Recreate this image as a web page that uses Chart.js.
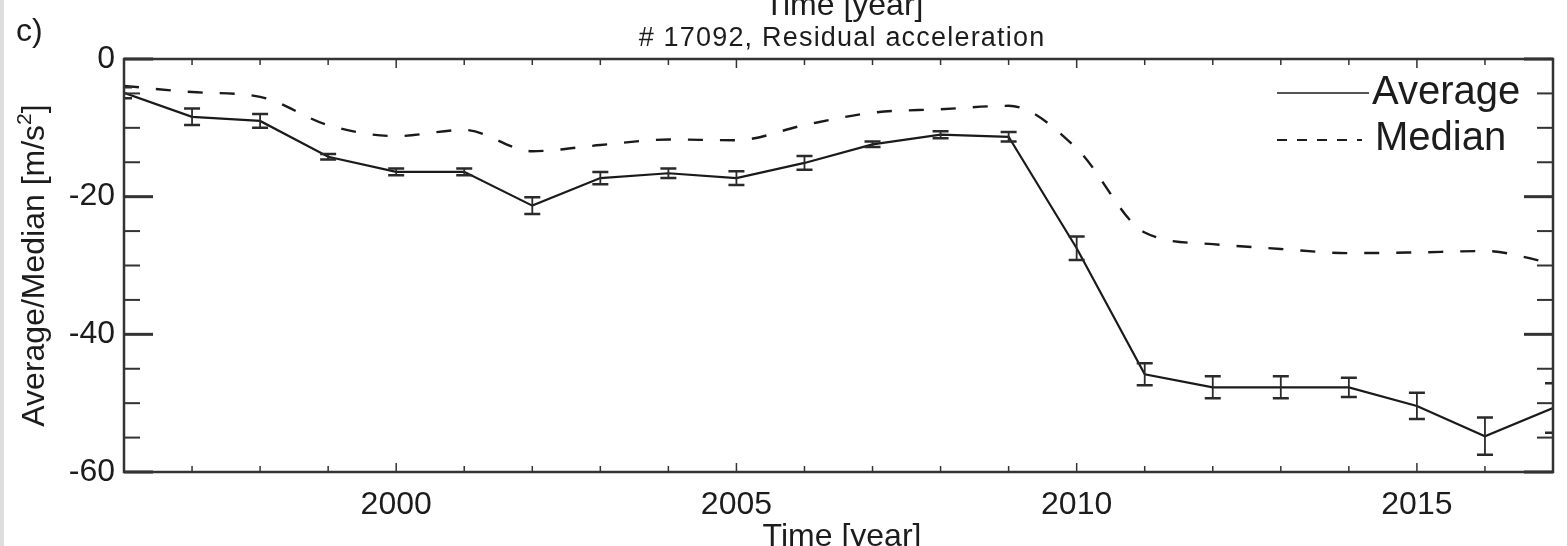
<!DOCTYPE html>
<html>
<head>
<meta charset="utf-8">
<title># 17092, Residual acceleration</title>
<script src="https://cdn.jsdelivr.net/npm/chart.js@4.4.1/dist/chart.umd.min.js"></script>
<style>
  html, body { margin: 0; padding: 0; background: #fff; }
  #wrap { width: 1567px; height: 546px; position: relative; }
</style>
</head>
<body>
<div id="wrap"><canvas id="accChart"></canvas></div>
<script>
// Yearly residual acceleration, station # 17092
const years = [1996, 1997, 1998, 1999, 2000, 2001, 2002, 2003, 2004, 2005, 2006,
               2007, 2008, 2009, 2010, 2011, 2012, 2013, 2014, 2015, 2016, 2017];
const average = [-4.9, -8.4, -9.0, -14.2, -16.4, -16.4, -21.3, -17.3, -16.6, -17.3, -15.1,
                 -12.4, -11.0, -11.3, -27.5, -45.8, -47.7, -47.7, -47.7, -50.4, -54.8, -50.7];
const averageErr = [0.8, 1.2, 1.0, 0.4, 0.5, 0.5, 1.2, 0.9, 0.7, 1.0, 1.0,
                    0.4, 0.5, 0.7, 1.7, 1.6, 1.6, 1.6, 1.4, 1.9, 2.7, 3.6];
const median = [-3.9, -4.8, -5.5, -9.6, -11.2, -10.3, -13.4, -12.5, -11.7, -11.8, -9.6,
                -7.8, -7.3, -6.8, -13.0, -25.2, -26.9, -27.6, -28.2, -28.1, -27.9, -29.7];

// axis ticks
const xTickLabels = [2000, 2005, 2010, 2015];
const yTickLabels = [0, -20, -40, -60];
const yMinorTicks = [0, -5, -10, -15, -20, -25, -30, -35, -40, -45, -50, -55, -60];

const FONT = '"Liberation Sans", Arial, Helvetica, sans-serif';
const INK = '#1c1c1c';

// Error bars on the average series
const errorBarPlugin = {
  id: 'errorBars',
  afterDatasetsDraw(chart) {
    const { ctx, chartArea: a, scales: { x, y } } = chart;
    ctx.save();
    ctx.beginPath();
    ctx.rect(a.left, a.top, a.right - a.left, a.bottom - a.top);
    ctx.clip();
    ctx.strokeStyle = '#2a2a2a';
    years.forEach((yr, i) => {
      const px = x.getPixelForValue(yr);
      const top = y.getPixelForValue(average[i] + averageErr[i]);
      const bot = y.getPixelForValue(average[i] - averageErr[i]);
      ctx.lineWidth = 1.8;
      ctx.beginPath();
      ctx.moveTo(px, top);
      ctx.lineTo(px, bot);
      ctx.stroke();
      ctx.lineWidth = 2.5;
      ctx.beginPath();
      ctx.moveTo(px - 8, top);
      ctx.lineTo(px + 8, top);
      ctx.moveTo(px - 8, bot);
      ctx.lineTo(px + 8, bot);
      ctx.stroke();
    });
    ctx.restore();
  }
};

// Box around the plot with inward ticks on all four sides
const framePlugin = {
  id: 'frame',
  afterDraw(chart) {
    const { ctx, chartArea: a, scales: { x, y } } = chart;
    const line = (x1, y1, x2, y2) => {
      ctx.beginPath();
      ctx.moveTo(x1, y1);
      ctx.lineTo(x2, y2);
      ctx.stroke();
    };
    ctx.save();
    ctx.strokeStyle = '#333';
    ctx.lineWidth = 2.5;
    ctx.strokeRect(a.left, a.top, a.right - a.left, a.bottom - a.top);

    years.forEach(v => {
      const px = x.getPixelForValue(v);
      const len = xTickLabels.includes(v) ? 9 : 6;
      ctx.lineWidth = 1.5;
      line(px, a.bottom, px, a.bottom - len);
      line(px, a.top, px, a.top + len);
    });
    yMinorTicks.forEach(v => {
      const py = y.getPixelForValue(v);
      const major = yTickLabels.includes(v);
      ctx.lineWidth = major ? 3 : 2;
      const len = major ? 29 : 16;
      line(a.left, py, a.left + len, py);
      line(a.right, py, a.right - len, py);
    });
    ctx.restore();
  }
};

// Titles, panel letter, axis titles and legend
const textPlugin = {
  id: 'texts',
  beforeDraw(chart) {
    const { ctx } = chart;
    ctx.save();
    ctx.fillStyle = '#dedede';
    ctx.fillRect(0, 0, 4, chart.height);
    ctx.restore();
  },
  afterDraw(chart) {
    const { ctx, chartArea: a } = chart;
    ctx.save();
    ctx.fillStyle = INK;
    ctx.textBaseline = 'alphabetic';

    ctx.font = '32px ' + FONT;
    ctx.textAlign = 'left';
    ctx.fillText('c)', 16, 41);

    ctx.textAlign = 'center';
    ctx.fillText('Time [year]', 844, 15);
    ctx.fillText('Time [year]', 842, 546);

    ctx.font = '27px ' + FONT;
    ctx.letterSpacing = '1.2px';
    ctx.fillText('# 17092, Residual acceleration', 842, 46);
    ctx.letterSpacing = '0px';

    // y axis title with superscript
    ctx.translate(44, (a.top + a.bottom) / 2);
    ctx.rotate(-Math.PI / 2);
    ctx.textAlign = 'left';
    const main = 'Average/Median [m/s';
    ctx.font = '32px ' + FONT;
    const w1 = ctx.measureText(main).width;
    const w3 = ctx.measureText(']').width;
    ctx.font = '21px ' + FONT;
    const w2 = ctx.measureText('2').width;
    const start = -(w1 + w2 + w3) / 2;
    ctx.font = '32px ' + FONT;
    ctx.fillText(main, start, 0);
    ctx.font = '21px ' + FONT;
    ctx.fillText('2', start + w1, -13);
    ctx.font = '32px ' + FONT;
    ctx.fillText(']', start + w1 + w2, 0);
    ctx.restore();

    // legend
    ctx.save();
    ctx.strokeStyle = INK;
    ctx.fillStyle = INK;
    ctx.lineWidth = 1.5;
    ctx.beginPath();
    ctx.moveTo(1277, 93);
    ctx.lineTo(1369, 93);
    ctx.stroke();
    ctx.setLineDash([10, 10]);
    ctx.lineWidth = 2;
    ctx.beginPath();
    ctx.moveTo(1277, 140);
    ctx.lineTo(1362, 140);
    ctx.stroke();
    ctx.font = '40px ' + FONT;
    ctx.textAlign = 'left';
    ctx.fillText('Average', 1372, 104);
    ctx.fillText('Median', 1375, 150);
    ctx.restore();
  }
};

const ctx = document.getElementById('accChart').getContext('2d');
const chart = new Chart(ctx, {
  type: 'line',
  data: {
    datasets: [
      {
        label: 'Average',
        data: years.map((yr, i) => ({ x: yr, y: average[i] })),
        borderColor: '#1a1a1a',
        borderWidth: 2.2,
        pointRadius: 0,
        tension: 0
      },
      {
        label: 'Median',
        data: years.map((yr, i) => ({ x: yr, y: median[i] })),
        borderColor: '#1a1a1a',
        borderWidth: 2.4,
        borderDash: [15, 17],
        pointRadius: 0,
        cubicInterpolationMode: 'monotone'
      }
    ]
  },
  options: {
    responsive: true,
    maintainAspectRatio: false,
    animation: false,
    layout: { padding: { top: 59, right: 14, bottom: 0, left: 0 } },
    plugins: {
      legend: { display: false },
      tooltip: { enabled: false }
    },
    scales: {
      x: {
        type: 'linear',
        min: 1996,
        max: 2017,
        afterBuildTicks: s => { s.ticks = xTickLabels.map(v => ({ value: v })); },
        afterFit: s => { s.height = 74; },
        grid: { display: false, drawTicks: false },
        border: { display: false },
        ticks: {
          padding: 14,
          color: INK,
          font: { family: FONT, size: 32 },
          maxRotation: 0,
          callback: v => String(v)
        }
      },
      y: {
        min: -60,
        max: 0,
        afterBuildTicks: s => { s.ticks = yTickLabels.map(v => ({ value: v })); },
        afterFit: s => { s.width = 124; },
        grid: { display: false, drawTicks: false },
        border: { display: false },
        ticks: {
          padding: 9,
          color: INK,
          font: { family: FONT, size: 32 }
        }
      }
    }
  },
  plugins: [errorBarPlugin, framePlugin, textPlugin]
});
</script>
</body>
</html>
